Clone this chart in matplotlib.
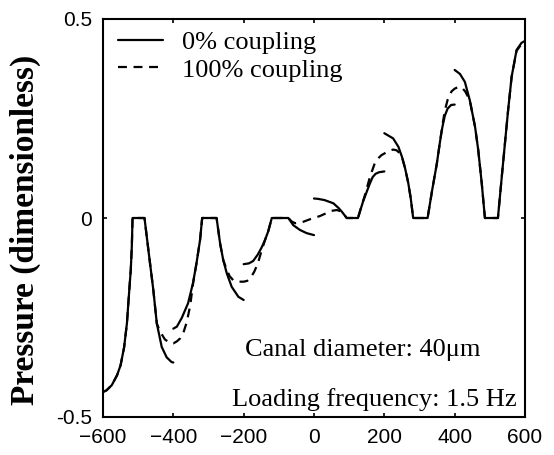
import numpy as np
import matplotlib
matplotlib.use("Agg")
import matplotlib.pyplot as plt

nan = np.nan

# Position along the canal (um) and dimensionless pressure, 0% coupling.
# The solution is discontinuous at every 200 um, so the pieces are split by NaN.
x_uncoupled = [
    -600, -590, -575, -560, -550, -540, -532, -526, -521, -518, -516,
    -482, -471, -457, -447, -433, -419, -405, -400, nan,
    -400, -390, -376, -358, -344, -334, -324, -318,
    -277, -267, -258, -248, -234, -215, -200, nan,
    -200, -185, -173, -160, -150, -140, -130, -120,
    -73, -59, -40, -21, 0, nan,
    0, 12, 30, 55, 70, 79, 93,
    125, 132, 139, 150, 159, 167, 175, 185, 200, nan,
    200, 225, 240, 250, 259, 268, 275, 282,
    323, 336, 349, 358, 365, 372, 380, 390, 400, nan,
    400, 415, 429, 443, 458, 467, 477, 486,
    523, 534, 543, 552, 562, 576, 590, 600,
]
p_uncoupled = [
    -0.437, -0.433, -0.420, -0.395, -0.370, -0.325, -0.265, -0.190, -0.130, -0.070, 0.0,
    0.0, -0.080, -0.180, -0.265, -0.324, -0.350, -0.362, -0.363, nan,
    -0.278, -0.273, -0.251, -0.214, -0.163, -0.113, -0.055, 0.0,
    0.0, -0.064, -0.106, -0.139, -0.173, -0.198, -0.206, nan,
    -0.116, -0.114, -0.108, -0.092, -0.076, -0.057, -0.033, 0.0,
    0.0, -0.018, -0.030, -0.038, -0.043, nan,
    0.049, 0.048, 0.045, 0.037, 0.025, 0.016, 0.0,
    0.0, 0.020, 0.040, 0.066, 0.087, 0.103, 0.111, 0.115, 0.117, nan,
    0.213, 0.200, 0.179, 0.154, 0.125, 0.088, 0.050, 0.0,
    0.0, 0.070, 0.135, 0.190, 0.228, 0.257, 0.275, 0.284, 0.285, nan,
    0.372, 0.362, 0.342, 0.296, 0.229, 0.171, 0.087, 0.0,
    0.0, 0.104, 0.188, 0.271, 0.355, 0.422, 0.440, 0.445,
]

# 100% coupling: continuous across the segment boundaries.
x_coupled = [
    -600, -590, -575, -560, -550, -540, -532, -526, -521, -518, -516,
    -482, -471, -457, -447, -438, -424, -410, -400,
    -390, -380, -372, -362, -352, -344, -334, -324, -318,
    -277, -267, -258, -248, -240, -230, -215, -200,
    -190, -180, -170, -160, -150, -140, -130, -120,
    -73, -63, -54, -35, -11, 0,
    17, 35, 50, 65, 79, 93,
    125, 135, 145, 159, 173, 185, 192, 200,
    212, 225, 235, 245, 250, 259, 268, 275, 282,
    323, 336, 349, 358, 365, 372, 380, 391, 400,
    410, 420, 430, 443, 458, 467, 477, 486,
    523, 534, 543, 552, 562, 576, 590, 600,
]
p_coupled = [
    -0.437, -0.433, -0.420, -0.395, -0.370, -0.325, -0.265, -0.190, -0.130, -0.070, 0.0,
    0.0, -0.080, -0.180, -0.265, -0.285, -0.305, -0.314, -0.315,
    -0.310, -0.302, -0.290, -0.262, -0.220, -0.165, -0.113, -0.055, 0.0,
    0.0, -0.064, -0.106, -0.130, -0.146, -0.156, -0.160, -0.160,
    -0.158, -0.150, -0.135, -0.115, -0.085, -0.057, -0.033, 0.0,
    0.0, -0.009, -0.013, -0.011, -0.003, 0.0,
    0.005, 0.012, 0.018, 0.020, 0.016, 0.0,
    0.0, 0.030, 0.058, 0.103, 0.138, 0.152, 0.158, 0.162,
    0.168, 0.172, 0.170, 0.162, 0.154, 0.125, 0.088, 0.050, 0.0,
    0.0, 0.070, 0.135, 0.190, 0.232, 0.270, 0.297, 0.318, 0.325,
    0.329, 0.328, 0.318, 0.296, 0.229, 0.171, 0.087, 0.0,
    0.0, 0.104, 0.188, 0.271, 0.355, 0.420, 0.437, 0.440,
]

x_ticks = [-600, -400, -200, 0, 200, 400, 600]
y_ticks = [-0.5, 0, 0.5]
y_tick_labels = ["-0.5", "0", "0.5"]
series_labels = ["0% coupling", "100% coupling"]
notes = ["Canal diameter: 40\u03bcm", "Loading frequency: 1.5 Hz"]

W, H = 554, 455
fig = plt.figure(figsize=(W / 100, H / 100), dpi=100)
ax = fig.add_axes([103 / W, 1 - 417 / H, 422 / W, 398 / H])

ax.plot(x_uncoupled, p_uncoupled, color="black", lw=1.6,
        solid_capstyle="round", solid_joinstyle="round", label=series_labels[0])
ax.plot(x_coupled, p_coupled, color="black", lw=1.6, ls=(0, (4, 3)),
        dash_capstyle="butt", label=series_labels[1])

ax.set_xlim(-600, 600)
ax.set_ylim(-0.5, 0.5)
ax.set_xticks(x_ticks)
ax.set_yticks(y_ticks)
ax.set_yticklabels(y_tick_labels)
for s in ax.spines.values():
    s.set_linewidth(1.5)
ax.tick_params(direction="in", length=3, width=1.2, top=True, right=True,
               labelsize=15, pad=8)
for lab in ax.get_xticklabels() + ax.get_yticklabels():
    lab.set_family("Liberation Sans")

ax.set_ylabel("Pressure (dimensionless)", family="Liberation Serif",
              fontweight="bold", fontsize=24)
ax.yaxis.set_label_coords(-0.148, 0.47)

leg = ax.legend(loc="upper left", bbox_to_anchor=(0.035, 0.971), frameon=False,
                prop={"family": "Liberation Serif", "size": 19},
                handlelength=1.7, handletextpad=0.75, labelspacing=0.155,
                borderpad=0, borderaxespad=0)

ax.text(139, -0.332, notes[0], family="Liberation Serif", fontsize=19,
        ha="center", va="center")
ax.text(173, -0.457, notes[1], family="Liberation Serif", fontsize=19,
        ha="center", va="center")

fig.savefig("out.png", dpi=100)
